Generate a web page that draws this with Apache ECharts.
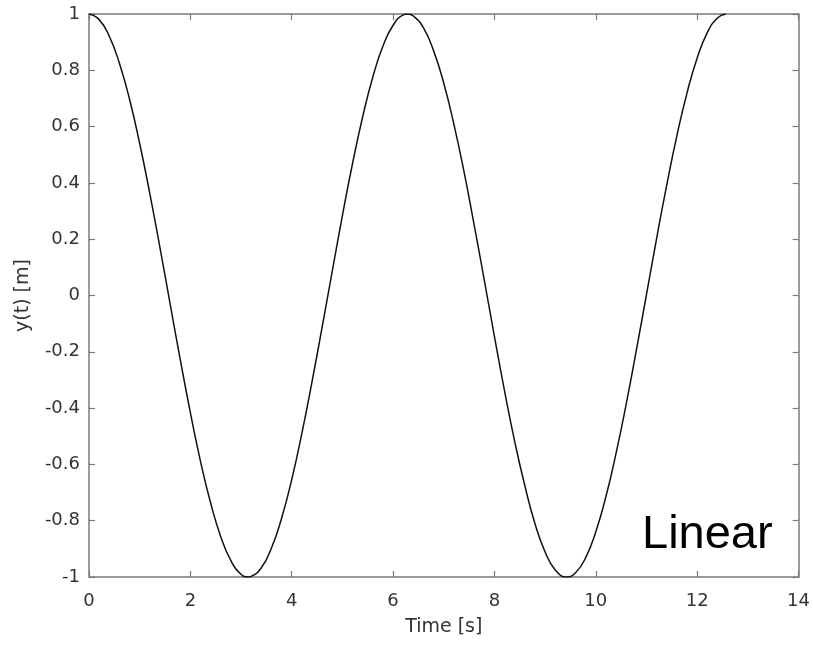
<!DOCTYPE html>
<html>
<head>
<meta charset="utf-8">
<script src="https://cdn.jsdelivr.net/npm/echarts@6/dist/echarts.min.js"></script>
<style>
html,body{margin:0;padding:0;background:#fff;}
#chart{width:813px;height:645px;}
</style>
</head>
<body>
<div id="chart"></div>
<script>
// Time samples [s]
var timeValues = [0, 0.2, 0.4, 0.6, 0.8, 1.0, 1.2, 1.4, 1.6, 1.8, 2.0, 2.2, 2.4, 2.6, 2.8, 3.0, 3.1416, 3.2, 3.4, 3.6, 3.8,
  4.0, 4.2, 4.4, 4.6, 4.8, 5.0, 5.2, 5.4, 5.6, 5.8, 6.0, 6.2, 6.2832, 6.4, 6.6, 6.8, 7.0, 7.2, 7.4, 7.6, 7.8,
  8.0, 8.2, 8.4, 8.6, 8.8, 9.0, 9.2, 9.4248, 9.6, 9.8, 10.0, 10.2, 10.4, 10.6, 10.8, 11.0, 11.2, 11.4, 11.6, 11.8,
  12.0, 12.2, 12.4, 12.566];
// Displacement y(t) [m]
var yValues = [1.000, 0.980, 0.921, 0.825, 0.697, 0.540, 0.362, 0.170, -0.029, -0.227, -0.416, -0.589, -0.737, -0.857, -0.942, -0.990, -1.000, -0.998, -0.967, -0.897, -0.791,
  -0.654, -0.490, -0.307, -0.112, 0.087, 0.284, 0.469, 0.635, 0.776, 0.886, 0.960, 0.997, 1.000, 0.993, 0.951, 0.869, 0.754, 0.608, 0.439, 0.250, 0.054,
  -0.146, -0.340, -0.519, -0.676, -0.811, -0.911, -0.975, -1.000, -0.985, -0.931, -0.839, -0.714, -0.560, -0.385, -0.194, 0.004, 0.203, 0.393, 0.568, 0.720,
  0.844, 0.934, 0.986, 1.000];
var xTickLabels = ['0', '2', '4', '6', '8', '10', '12', '14'];
var yTickLabels = ['-1', '-0.8', '-0.6', '-0.4', '-0.2', '0', '0.2', '0.4', '0.6', '0.8', '1'];
var xAxisTitle = 'Time [s]';
var yAxisTitle = 'y(t) [m]';
var annotationText = 'Linear';

var seriesData = timeValues.map(function (t, i) { return [t, yValues[i]]; });

var axisColor = '#7a7a7a';
var textColor = '#333333';
var fontFam = 'DejaVu Sans';

function xFmt(v) { var i = Math.round(v / 2); return xTickLabels[i] !== undefined ? xTickLabels[i] : ''; }
function yFmt(v) { var i = Math.round((v + 1) / 0.2); return yTickLabels[i] !== undefined ? yTickLabels[i] : ''; }

var chart = echarts.init(document.getElementById('chart'), null, {renderer: 'canvas'});
chart.setOption({
  animation: false,
  backgroundColor: '#ffffff',
  grid: {left: 89, top: 14, width: 712, height: 563, containLabel: false},
  xAxis: [{
    type: 'value', position: 'bottom', min: 0, max: 14, interval: 2,
    name: xAxisTitle, nameLocation: 'middle', nameGap: 41,
    nameTextStyle: {color: textColor, fontSize: 19, fontFamily: fontFam},
    axisLine: {show: true, onZero: false, lineStyle: {color: axisColor, width: 1.5}},
    axisTick: {show: true, inside: true, length: 6, lineStyle: {color: axisColor, width: 1.2}},
    axisLabel: {color: textColor, fontSize: 18, fontFamily: fontFam, margin: 15, formatter: xFmt},
    splitLine: {show: false}
  }, {
    type: 'value', position: 'top', min: 0, max: 14, interval: 2,
    axisLine: {show: true, onZero: false, lineStyle: {color: axisColor, width: 1.5}},
    axisTick: {show: true, inside: true, length: 6, lineStyle: {color: axisColor, width: 1.2}},
    axisLabel: {show: false},
    splitLine: {show: false}
  }],
  yAxis: [{
    type: 'value', position: 'left', min: -1, max: 1, interval: 0.2,
    name: yAxisTitle, nameLocation: 'middle', nameGap: 56, nameRotate: 90,
    nameTextStyle: {color: textColor, fontSize: 19, fontFamily: fontFam},
    axisLine: {show: true, onZero: false, lineStyle: {color: axisColor, width: 1.5}},
    axisTick: {show: true, inside: true, length: 6, lineStyle: {color: axisColor, width: 1.2}},
    axisLabel: {color: textColor, fontSize: 18, fontFamily: fontFam, margin: 9, formatter: yFmt},
    splitLine: {show: false}
  }, {
    type: 'value', position: 'right', min: -1, max: 1, interval: 0.2,
    axisLine: {show: true, onZero: false, lineStyle: {color: axisColor, width: 1.5}},
    axisTick: {show: true, inside: true, length: 6, lineStyle: {color: axisColor, width: 1.2}},
    axisLabel: {show: false},
    splitLine: {show: false}
  }],
  series: [{
    type: 'line', xAxisIndex: 0, yAxisIndex: 0,
    data: seriesData, showSymbol: false, symbol: 'none', smooth: true,
    lineStyle: {color: '#111111', width: 1.5}, clip: true
  }],
  graphic: [{
    type: 'text', left: 642, top: 512, z: 100,
    style: {text: annotationText, fill: '#000000', fontSize: 47, fontFamily: 'Liberation Sans'}
  }]
});
</script>
</body>
</html>
